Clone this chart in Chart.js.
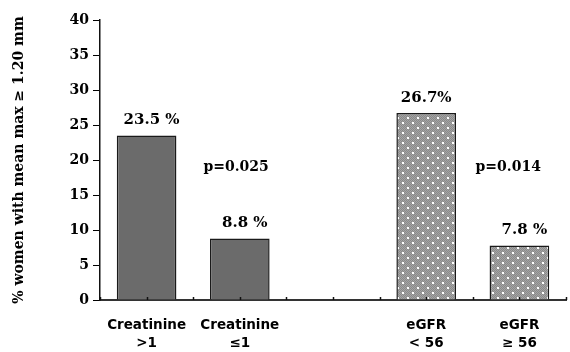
<!DOCTYPE html>
<html>
<head>
<meta charset="utf-8">
<script src="https://cdn.jsdelivr.net/npm/chart.js@4"></script>
<style>
  html, body { margin: 0; padding: 0; background: #fff; }
  #wrap { width: 570px; height: 352px; position: relative; }
</style>
</head>
<body>
<div id="wrap"><canvas id="chart"></canvas></div>
<script>
const categories = [['Creatinine', '>1'], ['Creatinine', '\u22641'], ['', ''], ['eGFR', '< 56'], ['eGFR', '\u2265 56']];
const values = [23.5, 8.8, null, 26.7, 7.8];
const valueLabels = ['23.5 %', '8.8 %', '', '26.7%', '7.8 %'];
// p-value notes, placed in category/value units
const pLabels = [{ text: 'p=0.025', x: 0.96, y: 18.9 }, { text: 'p=0.014', x: 3.88, y: 18.9 }];
const yTicks = [0, 5, 10, 15, 20, 25, 30, 35, 40];

const serif = '"DejaVu Serif", "Liberation Serif", serif';

// dotted grey fill used by the eGFR bars
const makePattern = () => {
    const c = document.createElement('canvas');
    c.width = 10; c.height = 10;
    const g = c.getContext('2d');
    g.fillStyle = '#a4a4a4';
    g.fillRect(0, 0, 10, 10);
    g.fillStyle = '#8a8a8a';
    for (let y = 0; y < 10; y++) {
        for (let x = (y % 2); x < 10; x += 2) g.fillRect(x, y, 1, 1);
    }
    g.fillStyle = '#ffffff';
    g.fillRect(2, 2, 2, 2);
    g.fillRect(7, 7, 2, 2);
    return g.createPattern(c, 'repeat');
};
const dots = makePattern();

// small upward ticks on the x axis, at every half category
const tickPlugin = {
    id: 'xticks',
    afterDraw(chart) {
        const ctx = chart.ctx;
        const x = chart.scales.x;
        const base = chart.chartArea.bottom;
        ctx.save();
        ctx.strokeStyle = '#111';
        ctx.lineWidth = 1.5;
        for (let v = -0.5; v <= categories.length - 0.5; v += 0.5) {
            const px = Math.round(x.getPixelForValue(v)) + 0.5;
            ctx.beginPath();
            ctx.moveTo(px, base);
            ctx.lineTo(px, base - 3);
            ctx.stroke();
        }
        ctx.restore();
    }
};

const labelPlugin = {
    id: 'labels',
    afterDatasetsDraw(chart) {
        const ctx = chart.ctx;
        const meta = chart.getDatasetMeta(0);
        const x = chart.scales.x, y = chart.scales.y;
        ctx.save();
        ctx.fillStyle = '#000';
        ctx.font = 'bold 15px ' + serif;
        ctx.textAlign = 'center';
        ctx.textBaseline = 'middle';
        meta.data.forEach((bar, i) => {
            if (values[i] == null) return;
            const shift = valueLabels[i].includes(' ') ? 5 : 0;
            ctx.fillText(valueLabels[i], bar.x + shift, bar.y - 15);
        });
        ctx.font = 'bold 14px ' + serif;
        pLabels.forEach(p => {
            ctx.fillText(p.text, x.getPixelForValue(p.x), y.getPixelForValue(p.y));
        });
        ctx.restore();
    }
};

const data = {
    labels: categories,
    datasets: [{
        data: values,
        backgroundColor: ['#6b6b6b', '#6b6b6b', '#6b6b6b', dots, dots],
        borderColor: '#1a1a1a',
        borderWidth: 1.5,
        borderSkipped: 'bottom',
        categoryPercentage: 1,
        barPercentage: 0.64
    }]
};

const options = {
    animation: false,
    responsive: true,
    maintainAspectRatio: false,
    layout: { padding: { top: 20, right: 4, left: 4, bottom: 4 } },
    scales: {
        x: {
            offset: true,
            afterFit: axis => { axis.height = 48; },
            grid: { display: false },
            border: { color: '#333', width: 2 },
            ticks: {
                color: '#000',
                padding: 8,
                maxRotation: 0,
                font: { family: '"DejaVu Sans", sans-serif', size: 13.5, weight: 'bold', lineHeight: 1.35 }
            }
        },
        y: {
            min: 0,
            max: 40,
            afterFit: axis => { axis.width = 96; },
            afterBuildTicks: axis => { axis.ticks = yTicks.map(v => ({ value: v })); },
            grid: { display: true, drawOnChartArea: false, tickLength: 7, color: '#000', lineWidth: 1 },
            border: { color: '#111', width: 1.5 },
            ticks: {
                color: '#000',
                padding: 4,
                font: { family: serif, size: 14, weight: 'bold' }
            },
            title: {
                display: true,
                text: '% women with mean max \u2265 1.20 mm',
                color: '#000',
                padding: { top: 7, bottom: 0 },
                font: { family: serif, size: 14, weight: 'bold' }
            }
        }
    },
    plugins: {
        legend: { display: false },
        tooltip: { enabled: false }
    }
};

new Chart(document.getElementById('chart'), {
    type: 'bar',
    data,
    options,
    plugins: [labelPlugin, tickPlugin]
});
</script>
</body>
</html>
